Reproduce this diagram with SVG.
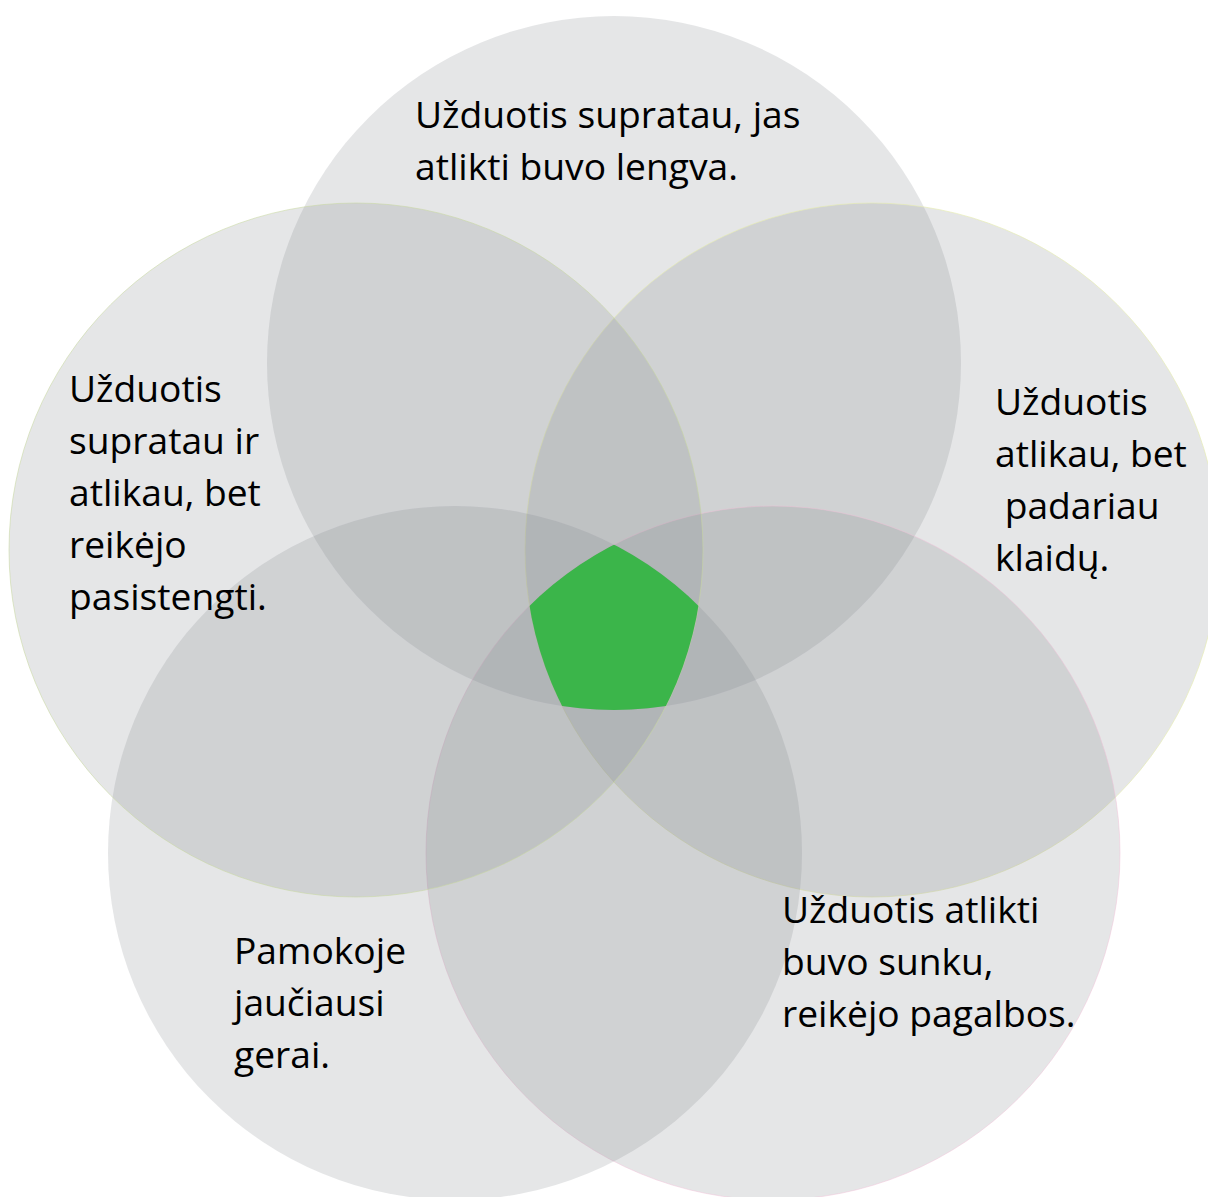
<svg xmlns="http://www.w3.org/2000/svg" width="1208" height="1197" viewBox="0 0 1208 1197">
<style>
.c{fill:#7d8086;fill-opacity:0.2}
.t{font-family:"Open Sans","Noto Sans","DejaVu Sans",sans-serif;font-size:37.2px;fill:#000}
</style>
<defs>
<clipPath id="k1"><circle cx="614" cy="363" r="347"/></clipPath>
<clipPath id="k2"><circle cx="872" cy="550" r="347"/></clipPath>
<clipPath id="k3"><circle cx="773" cy="853" r="347"/></clipPath>
<clipPath id="k4"><circle cx="455" cy="853" r="347"/></clipPath>
<clipPath id="k5"><circle cx="356" cy="550" r="347"/></clipPath>
</defs>
<rect width="1208" height="1197" fill="#fff"/>
<g id="circle-top"><circle class="c" cx="614" cy="363" r="347"/></g>
<g id="circle-right"><circle class="c" cx="872" cy="550" r="347" stroke="#e6ecb0" stroke-width="0.8" stroke-opacity="0.8"/></g>
<g id="circle-bottom-right"><circle class="c" cx="773" cy="853" r="347" stroke="#f0c0d8" stroke-width="0.8" stroke-opacity="0.6"/></g>
<g id="circle-bottom-left"><circle class="c" cx="455" cy="853" r="347"/></g>
<g id="circle-left"><circle class="c" cx="356" cy="550" r="347" stroke="#c8d8a0" stroke-width="0.8" stroke-opacity="0.7"/></g>
<g id="center">
<g clip-path="url(#k1)"><g clip-path="url(#k2)"><g clip-path="url(#k3)"><g clip-path="url(#k4)"><g clip-path="url(#k5)">
<rect x="400" y="400" width="430" height="430" fill="#3bb54a"/>
</g></g></g></g></g>
</g>
<g id="label-top"><text class="t" x="415" y="128">Užduotis supratau, jas</text><text class="t" x="415" y="180">atlikti buvo lengva.</text></g>
<g id="label-left">
<text class="t" x="69" y="402">Užduotis</text>
<text class="t" x="69" y="454">supratau ir</text>
<text class="t" x="69" y="506">atlikau, bet</text>
<text class="t" x="69" y="558">reikėjo</text>
<text class="t" x="69" y="610">pasistengti.</text>
</g>
<g id="label-right">
<text class="t" x="995" y="415">Užduotis</text>
<text class="t" x="995" y="467">atlikau, bet</text>
<text class="t" x="995" y="519" xml:space="preserve"> padariau</text>
<text class="t" x="995" y="571">klaidų.</text>
</g>
<g id="label-bottom-left">
<text class="t" x="234" y="964">Pamokoje</text>
<text class="t" x="234" y="1016">jaučiausi</text>
<text class="t" x="234" y="1068">gerai.</text>
</g>
<g id="label-bottom-right">
<text class="t" x="782" y="923">Užduotis atlikti</text>
<text class="t" x="782" y="975">buvo sunku,</text>
<text class="t" x="782" y="1027">reikėjo pagalbos.</text>
</g>
<g id="connectors"/>
</svg>
